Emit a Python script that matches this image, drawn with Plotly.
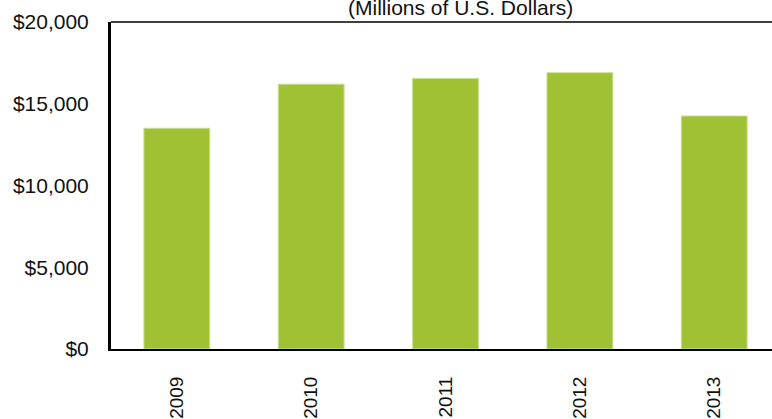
import plotly.graph_objects as go

years = ["2009", "2010", "2011", "2012", "2013"]
values = [13500, 16200, 16550, 16900, 14250]
y_tickvals = [0, 5000, 10000, 15000, 20000]
y_ticktext = ["$0", "$5,000", "$10,000", "$15,000", "$20,000"]
subtitle = "(Millions of U.S. Dollars)"

fig = go.Figure()
fig.add_trace(go.Bar(
    x=list(range(len(years))), y=values, width=0.49,
    marker=dict(color="#a0c133", line=dict(color="#c9e08f", width=1)),
))

fig.update_layout(
    template="none",
    width=772, height=419,
    margin=dict(l=111, r=0, t=22, b=70, autoexpand=False),
    paper_bgcolor="white", plot_bgcolor="white",
    showlegend=False,
    font=dict(family="Liberation Sans, Arial, sans-serif", color="#111111"),
    xaxis=dict(
        range=[-0.49, 4.43], tickmode="array",
        tickvals=list(range(len(years))), ticktext=years,
        tickangle=-90, tickfont=dict(size=19),
        showgrid=False, zeroline=False, automargin=False,
        showline=True, linecolor="black", linewidth=2,
        ticks="", ticklabelstandoff=18,
    ),
    yaxis=dict(
        range=[0, 20000], tickmode="array",
        tickvals=y_tickvals, ticktext=y_ticktext,
        tickfont=dict(size=21), automargin=False,
        showgrid=False, zeroline=False,
        showline=True, linecolor="black", linewidth=3,
        ticks="", ticklabelstandoff=15,
    ),
    annotations=[dict(
        text=subtitle, xref="paper", yref="paper",
        x=(460 - 111) / 661, y=1, xanchor="center", yanchor="bottom",
        yshift=1, showarrow=False, font=dict(size=21),
    )],
    shapes=[dict(type="line", xref="paper", yref="paper", x0=0, x1=1, y0=1, y1=1,
                 line=dict(color="black", width=1.5))],
)

fig.write_html(
    "out.html",
    config={"displayModeBar": False},
    post_script="document.body.style.margin='0';document.body.style.overflow='hidden';",
)
